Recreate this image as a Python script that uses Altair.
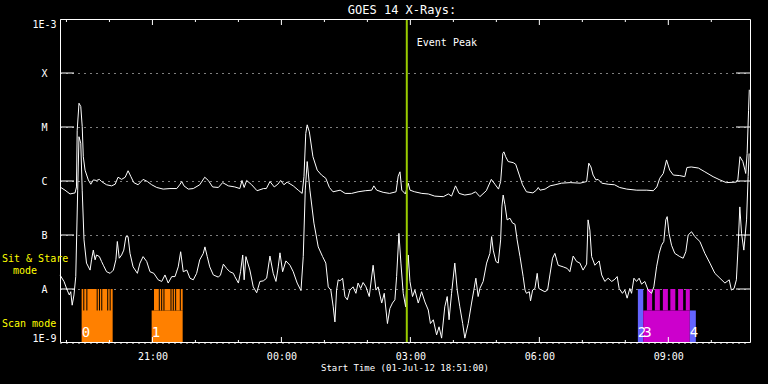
import altair as alt
import pandas as pd

FONT = "DejaVu Sans Mono"

# ---- data: minutes since 01-Jul-12 18:51:00, log10 flux (W/m^2) ----
long_t = [0, 7, 14, 21, 23, 24, 26.5, 29, 31, 32.5,
          35, 39.5, 43, 46.5, 51, 55, 58, 65, 72, 77,
          81, 86, 91, 95, 99, 103, 109, 116, 122, 128,
          135, 144, 153.5, 163, 167, 170, 173, 179, 186, 195,
          202, 207, 213, 221, 227, 235, 244, 251, 254, 257,
          260.5, 267.5, 275, 284, 288, 293, 299, 304, 308, 312.5,
          317, 325.5, 332.5, 338, 340.5, 343, 345, 348, 353, 359,
          365, 371, 376, 381, 391, 398, 407, 416, 426, 435,
          438, 442, 451, 460, 469, 472, 474.5, 477, 482, 486,
          488.5, 495, 505, 514, 523, 535, 542, 546.5, 552, 557,
          565, 574, 580, 586, 595, 602, 607, 612, 615, 618,
          619.5, 622, 625.5, 632.5, 636, 641, 645.5, 651, 660, 665,
          667.5, 670, 677, 684, 691, 700, 712, 726, 735, 738,
          741, 744, 748, 751, 756, 765, 774, 781, 791, 805,
          819, 828, 833, 837, 842, 846.5, 851, 856, 865, 872,
          875, 881, 891, 900, 911.5, 921, 930, 944, 946, 949,
          953, 956, 957, 959, 961, 962]
long_log = [-6.11, -6.17, -6.24, -6.22, -6.11, -5.06, -4.56, -4.62, -4.99, -5.55,
            -5.80, -5.98, -6.06, -5.98, -5.99, -5.97, -6.01, -6.07, -6.09, -6.06,
            -5.93, -5.97, -5.93, -5.81, -5.92, -6.03, -6.07, -5.97, -6.01, -6.07,
            -6.12, -6.15, -6.14, -6.14, -6.07, -6.01, -6.09, -6.15, -6.14, -6.07,
            -5.93, -5.99, -6.11, -6.12, -6.03, -6.09, -6.11, -6.14, -5.99, -6.12,
            -5.99, -6.07, -6.18, -6.14, -6.14, -6.01, -6.11, -6.06, -5.99, -6.07,
            -6.02, -6.09, -6.17, -6.23, -5.92, -5.12, -4.96, -5.09, -5.55, -5.80,
            -5.89, -5.95, -6.12, -6.20, -6.17, -6.23, -6.23, -6.20, -6.18, -6.17,
            -6.09, -6.17, -6.21, -6.23, -6.20, -5.91, -5.83, -6.17, -6.24, -6.04,
            -6.17, -6.20, -6.23, -6.24, -6.28, -6.29, -6.24, -6.28, -6.09, -6.23,
            -6.26, -6.24, -6.20, -6.29, -6.18, -5.97, -6.06, -6.15, -6.01, -5.49,
            -5.46, -5.55, -5.64, -5.66, -5.69, -5.89, -6.07, -6.20, -6.22, -6.17,
            -6.12, -6.17, -6.15, -6.09, -6.07, -6.04, -6.03, -6.04, -6.01, -5.67,
            -5.74, -5.89, -5.98, -5.97, -6.04, -6.06, -6.07, -6.12, -6.15, -6.17,
            -6.17, -6.18, -6.11, -5.95, -5.86, -5.61, -5.80, -5.89, -5.90, -5.92,
            -5.75, -5.74, -5.76, -5.83, -5.92, -5.98, -6.03, -6.02, -5.98, -5.55,
            -5.64, -5.80, -5.86, -5.49, -4.69, -4.31]

short_t = [0, 5.6, 10, 13, 15, 17, 19.5, 22, 24.7, 26.5,
           29, 31, 33.5, 37, 42, 44, 46.5, 49, 51, 55,
           58, 60.5, 65, 70, 74.5, 78, 80, 82.7, 86, 89,
           92, 95, 97.7, 102, 108, 111.6, 116, 121, 125.6, 131,
           137, 142, 146.5, 151, 156, 160.5, 165, 168.4, 172, 177,
           181.4, 186, 190.7, 195, 200, 202.3, 205.5, 209, 214, 221,
           224, 228, 232.6, 237, 242, 244, 249, 252, 255, 257,
           259.5, 265, 269.7, 274.5, 279, 283.7, 288.4, 293, 297.6, 301.4,
           304.6, 307, 310.7, 315.3, 321, 325.5, 331, 336.3, 339.5, 342.3,
           345, 348.8, 354.4, 360.4, 366.5, 371, 374.4, 378, 381.3, 383.7,
           386, 388.3, 390.7, 394.4, 397.7, 401, 404.6, 409, 413, 416,
           419.6, 423, 427, 431.6, 437, 441, 444, 449, 452.5, 457,
           460.4, 464, 467.4, 469.8, 473, 475.8, 479, 482.4, 486, 488.4,
           492, 495.3, 500, 504.7, 509.3, 514, 517, 521, 525.6, 529,
           532.6, 537, 540.4, 543, 546.5, 551, 554.4, 558, 562, 565,
           569.7, 574.4, 577.6, 580.4, 583.6, 586, 590.6, 595.4, 600, 602.4,
           604.6, 608.4, 611.6, 615, 616.7, 618.5, 621, 624, 628, 631.6,
           635, 638, 642, 646.4, 649, 651, 655, 656.7, 659.6, 662.8,
           666, 668.3, 672, 676.7, 680.5, 683.7, 687.4, 690.7, 695.3, 702.3,
           708, 711.6, 716.2, 721, 725.6, 730, 735, 737, 739.5, 742,
           746.5, 752.5, 756, 760.4, 765, 770, 774.4, 777.6, 780.4, 785,
           788.3, 791.5, 795.3, 797.7, 801, 804.7, 808.3, 811.6, 816.2, 820.8,
           825.6, 828.8, 832.6, 836.2, 839.5, 842.7, 845.5, 847.4, 850, 853.5,
           858, 865, 869.7, 873.4, 876.7, 881.4, 886, 893, 900, 907,
           914, 921, 928, 934, 937, 940.8, 944, 946.4, 948.8, 951.2,
           954.4, 958.2, 960.4, 961.8]
short_log = [-7.74, -7.86, -8.02, -8.11, -8.05, -8.30, -8.11, -7.77, -6.17, -5.18,
             -5.30, -6.17, -7.09, -7.52, -7.65, -7.46, -7.28, -7.46, -7.37, -7.40,
             -7.49, -7.56, -7.68, -7.71, -7.65, -7.46, -7.12, -7.43, -7.37, -7.28,
             -7.03, -7.03, -7.34, -7.59, -7.71, -7.52, -7.40, -7.49, -7.68, -7.71,
             -7.83, -7.86, -7.74, -7.89, -7.77, -7.77, -7.59, -7.31, -7.68, -7.65,
             -7.80, -7.83, -7.71, -7.46, -7.34, -7.22, -7.40, -7.59, -7.74, -7.78,
             -7.74, -7.54, -7.62, -7.68, -7.71, -7.77, -7.89, -7.68, -7.37, -7.83,
             -7.40, -7.65, -7.96, -8.07, -7.86, -7.85, -7.80, -7.39, -7.71, -7.86,
             -7.59, -7.33, -7.68, -7.48, -7.56, -7.68, -7.89, -8.03, -7.40, -6.17,
             -5.64, -6.17, -6.78, -7.22, -7.40, -7.52, -7.96, -8.02, -8.33, -8.61,
             -8.02, -7.83, -7.85, -7.80, -8.14, -8.20, -8.02, -7.96, -8.08, -7.89,
             -7.99, -7.88, -7.96, -8.14, -7.56, -8.02, -7.96, -8.26, -8.08, -8.64,
             -8.36, -8.26, -8.20, -7.77, -6.97, -7.52, -8.08, -8.33, -7.37, -7.86,
             -8.14, -8.02, -8.26, -8.05, -8.24, -8.39, -8.64, -8.57, -8.85, -8.70,
             -8.91, -8.33, -8.14, -8.57, -8.08, -7.52, -8.02, -8.33, -8.64, -8.91,
             -8.64, -8.26, -8.02, -7.80, -8.14, -7.99, -7.86, -7.52, -7.34, -7.03,
             -7.28, -7.49, -7.52, -7.09, -6.48, -6.26, -6.44, -6.72, -6.69, -6.78,
             -6.80, -7.09, -7.40, -7.77, -8.02, -8.08, -8.05, -8.22, -8.02, -7.99,
             -7.71, -7.99, -8.02, -8.05, -8.02, -7.74, -7.43, -7.34, -7.56, -7.59,
             -7.62, -7.68, -7.39, -7.49, -7.52, -7.65, -7.54, -6.72, -6.91, -7.40,
             -7.56, -7.48, -7.74, -7.86, -7.80, -7.86, -7.82, -7.77, -7.99, -8.08,
             -8.02, -8.17, -7.99, -8.08, -7.80, -7.86, -7.80, -7.91, -7.86, -8.02,
             -8.08, -7.96, -7.59, -7.34, -7.19, -7.12, -6.72, -6.66, -6.97, -7.19,
             -7.34, -7.40, -7.43, -7.31, -7.00, -6.94, -7.03, -7.12, -7.34, -7.52,
             -7.71, -7.80, -7.89, -7.83, -8.02, -7.99, -7.83, -7.22, -6.48, -6.97,
             -7.28, -6.72, -5.92, -5.49]

# observing-mode blocks (minutes), flux extent, colour
mode_t0 = [30.2, 127.9, 131.2, 806.5, 814.0, 819.1, 830.2, 841.4, 851.8, 862.7, 873.4, 879.0]
mode_t1 = [73.5, 171.2, 171.2, 814.0, 879.0, 826.4, 837.2, 848.4, 858.8, 869.7, 879.0, 887.4]
mode_lo = [1e-9, 1e-9, 4e-9, 1e-9, 1e-9, 4e-9, 4e-9, 4e-9, 4e-9, 4e-9, 4e-9, 1e-9]
mode_hi = [1e-8, 4e-9, 1e-8, 1e-8, 4e-9, 1e-8, 1e-8, 1e-8, 1e-8, 1e-8, 1e-8, 4e-9]
mode_col = ["#ff8000", "#ff8000", "#ff8000", "#6464ff", "#cc00cc", "#cc00cc",
            "#cc00cc", "#cc00cc", "#cc00cc", "#cc00cc", "#cc00cc", "#6464ff"]
gap_t = [33.2, 37.5, 51.9, 55.1, 58.3, 66.6, 70.0,
         138.6, 141.9, 145.1, 154.9, 158.1, 161.4, 167.9]
mode_labels = ["0", "1", "2", "3", "4"]
mode_label_t = [30.2, 127.9, 806.5, 814.0, 879.0]

event_t = 484
x_major = [129, 309, 489, 669, 849]
x_major_labels = ["21:00", "00:00", "03:00", "06:00", "09:00"]
x_minor = [9, 69, 189, 249, 369, 429, 549, 609, 729, 789, 909]
y_exps = [-9, -8, -7, -6, -5, -4, -3]
y_labels = ["1E-9", "A", "B", "C", "M", "X", "1E-3"]
title_text = "GOES 14 X-Rays:"
xtitle_text = "Start Time (01-Jul-12 18:51:00)"

W, H = 690, 324

curves = pd.DataFrame({
    "t": long_t + short_t,
    "flux": [10 ** v for v in long_log + short_log],
    "series": ["long"] * len(long_t) + ["short"] * len(short_t),
})
modes = pd.DataFrame({"t0": mode_t0, "t1": mode_t1, "lo": mode_lo, "hi": mode_hi, "col": mode_col})
gaps = pd.DataFrame({"t": gap_t, "lo": [4e-9] * len(gap_t), "hi": [1e-8] * len(gap_t)})
mlab = pd.DataFrame({"t": mode_label_t, "txt": mode_labels})
levels = pd.DataFrame({"v": [10.0 ** e for e in y_exps[1:-1]]})
majors = pd.DataFrame({"t": x_major})
minors = pd.DataFrame({"t": x_minor})

xs = alt.Scale(domain=[0, 963], nice=False, zero=False)
ys = alt.Scale(type="log", domain=[1e-9, 1e-3], nice=False)

xexpr = "''"
for v, l in reversed(list(zip(x_major, x_major_labels))):
    xexpr = f"datum.value == {v} ? '{l}' : ({xexpr})"
yexpr = "''"
for e, l in reversed(list(zip(y_exps, y_labels))):
    yexpr = f"round(log(datum.value)/LN10) == {e} ? '{l}' : ({yexpr})"

x_axis = alt.Axis(values=x_major, labelExpr=xexpr, ticks=False, domain=False, grid=False,
                  labelColor="white", labelFont=FONT, labelFontSize=10, labelPadding=8,
                  labelFlush=False, title=None)
y_axis = alt.Axis(values=[10.0 ** e for e in y_exps], labelExpr=yexpr, ticks=False, tickSize=0,
                  domain=False, grid=True, gridColor="white", gridDash=[1, 5], gridOpacity=1,
                  gridWidth=1, labelColor="white", labelFont=FONT, labelFontSize=10,
                  labelAlign="center", labelPadding=16, labelFlush=True, title=None)


def X(f):
    return alt.X(f"{f}:Q", scale=xs, axis=x_axis)


def Y(f):
    return alt.Y(f"{f}:Q", scale=ys, axis=y_axis)


rects = alt.Chart(modes).mark_rect().encode(
    x=X("t0"), x2="t1", y=Y("lo"), y2="hi", color=alt.Color("col:N", scale=None))
gap_rules = alt.Chart(gaps).mark_rule(color="black", strokeWidth=1).encode(
    x=X("t"), y=Y("lo"), y2="hi")
lines = alt.Chart(curves).mark_line(color="white", strokeWidth=1).encode(
    x=X("t"), y=Y("flux"), detail="series:N")
event = alt.Chart(pd.DataFrame({"t": [event_t]})).mark_rule(color="#99cc00", strokeWidth=2).encode(
    x=X("t"), y=alt.value(0), y2=alt.value(H))
event_lab = alt.Chart(pd.DataFrame({"t": [event_t], "txt": ["Event Peak"]})).mark_text(
    font=FONT, fontSize=10, color="white", align="left", baseline="middle", dx=10).encode(
    x=X("t"), y=alt.value(24), text="txt:N")

tk = dict(color="white", strokeWidth=1)
ticks = [
    alt.Chart(majors).mark_rule(**tk).encode(x=X("t"), y=alt.value(0), y2=alt.value(6)),
    alt.Chart(minors).mark_rule(**tk).encode(x=X("t"), y=alt.value(0), y2=alt.value(3)),
    alt.Chart(majors).mark_rule(**tk).encode(x=X("t"), y=alt.value(H), y2=alt.value(H - 6)),
    alt.Chart(minors).mark_rule(**tk).encode(x=X("t"), y=alt.value(H), y2=alt.value(H - 3)),
    alt.Chart(levels).mark_rule(**tk).encode(y=Y("v"), x=alt.value(0), x2=alt.value(14)),
    alt.Chart(levels).mark_rule(**tk).encode(y=Y("v"), x=alt.value(W - 14), x2=alt.value(W)),
]
frame = alt.Chart(pd.DataFrame({"a": [0]})).mark_rect(filled=False, stroke="white", strokeWidth=1).encode(
    x=alt.value(0.5), x2=alt.value(W + 0.5), y=alt.value(0.5), y2=alt.value(H - 0.5))

num_lab = alt.Chart(mlab).mark_text(font=FONT, fontSize=14, color="white", align="left",
                                    baseline="middle").encode(x=X("t"), y=alt.value(314), text="txt:N")


def txt(s, x, y, size=10, color="white", align="left"):
    return alt.Chart(pd.DataFrame({"txt": [s]})).mark_text(
        font=FONT, fontSize=size, color=color, align=align, baseline="middle").encode(
        x=alt.value(x), y=alt.value(y), text="txt:N")


texts = [
    txt(title_text, 342, -9.5, size=12, align="center"),
    txt(xtitle_text, 345, 349, size=9, align="center"),
    txt("Sit & Stare", -58, 240, color="#ffff00"),
    txt("mode", -47, 252, color="#ffff00"),
    txt("Scan mode", -58, 305, color="#ffff00"),
]

chart = alt.layer(rects, gap_rules, lines, event, *ticks, frame, event_lab, num_lab, *texts).properties(
    width=W, height=H, autosize=alt.AutoSizeParams(type="none"),
    padding={"left": 60, "top": 19, "right": 18, "bottom": 41},
).configure(background="black").configure_view(stroke=None)

chart.save("out.html", embed_options={"renderer": "svg", "actions": False})
